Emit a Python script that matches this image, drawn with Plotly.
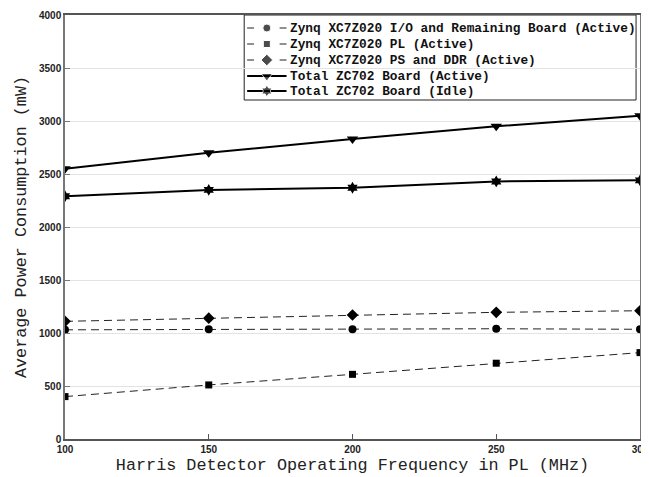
import plotly.graph_objects as go

freq = [100, 150, 200, 250, 300]
io_remaining = [1030, 1035, 1035, 1040, 1035]
pl_active = [400, 510, 610, 715, 815]
ps_ddr = [1110, 1140, 1170, 1195, 1210]
total_active = [2550, 2700, 2830, 2950, 3050]
total_idle = [2290, 2350, 2370, 2430, 2440]

names = [
    "Zynq XC7Z020 I/O and Remaining Board (Active)",
    "Zynq XC7Z020 PL (Active)",
    "Zynq XC7Z020 PS and DDR (Active)",
    "Total ZC702 Board (Active)",
    "Total ZC702 Board (Idle)",
]
y_ticks = [0, 500, 1000, 1500, 2000, 2500, 3000, 3500, 4000]
x_ticks = [100, 150, 200, 250, 300]

series = [io_remaining, pl_active, ps_ddr, total_active, total_idle]
symbols = ["circle", "square", "diamond", "triangle-down", "hexagram"]
sizes = [8, 7, 9, 10, 9]
leg_sizes = [8, 7, 9, 10, 9]
dashes = ["8px,5px", "8px,5px", "8px,5px", "solid", "solid"]
widths = [1, 1, 1, 2, 2]
colors = ["#222", "#222", "#222", "black", "black"]

fig = go.Figure()
for n, s, sym, sz, d, w, c in zip(names, series, symbols, sizes, dashes, widths, colors):
    fig.add_trace(go.Scatter(
        x=freq, y=s, name=n, mode="lines+markers", showlegend=False,
        line=dict(color=c, width=w, dash=d),
        marker=dict(symbol=sym, size=sz, color="black"),
    ))

# ---- manual legend (layout, in pixel-like overlay axes) ----
box_x0, box_x1, box_y0, box_y1 = 247, 645, 15, 100
row_y = [28, 44, 60, 76, 91]
g0, g1, gm = 250, 290, 270
text_x = 291

fig.add_shape(type="rect", xref="x2", yref="y2", x0=box_x0, x1=box_x1, y0=box_y0, y1=box_y1,
              line=dict(color="#222", width=1), fillcolor="white", layer="below")
for i, n in enumerate(names):
    y = row_y[i]
    if dashes[i] == "solid":
        fig.add_shape(type="line", xref="x2", yref="y2", x0=g0, x1=g1, y0=y, y1=y,
                      line=dict(color="black", width=2), layer="below")
    else:
        for a, b in [(g0, g0 + 7), (g1 - 7, g1)]:
            fig.add_shape(type="line", xref="x2", yref="y2", x0=a, x1=b, y0=y, y1=y,
                          line=dict(color="#222", width=1), layer="below")
    fig.add_annotation(xref="x2", yref="y2", x=text_x, y=y, text=n, showarrow=False,
                       xanchor="left", yanchor="middle",
                       font=dict(family="Liberation Mono", size=12.8, color="#111", weight="bold"))

fig.add_trace(go.Scatter(
    x=[gm] * 5, y=row_y, xaxis="x2", yaxis="y2", mode="markers", showlegend=False,
    marker=dict(symbol=symbols, size=leg_sizes, color="black"), cliponaxis=False,
    hoverinfo="skip",
))

tickfont = dict(family="Liberation Sans", size=10, color="#222", weight="bold")
titlefont = dict(family="Liberation Mono", size=16.8, color="#222")

fig.update_layout(
    width=641, height=469,
    margin=dict(l=57, r=0, t=7, b=38),
    paper_bgcolor="white", plot_bgcolor="white",
    showlegend=False,
    xaxis=dict(
        range=[100, 300], tickvals=x_ticks, ticktext=[str(v) for v in x_ticks],
        showgrid=False, zeroline=False, ticklabeloverflow="allow",
        showline=True, linecolor="#555", linewidth=1.5, mirror=True,
        ticks="inside", ticklen=5, tickcolor="#555", tickfont=tickfont,
        title=dict(text="Harris Detector Operating Frequency in PL (MHz)",
                   font=titlefont, standoff=4),
    ),
    yaxis=dict(
        range=[0, 4000], tickvals=y_ticks, ticktext=[str(v) for v in y_ticks],
        showgrid=True, gridcolor="#e3e3e3", gridwidth=1, zeroline=False,
        ticklabeloverflow="allow",
        showline=True, linecolor="#777", linewidth=1.5, mirror=True,
        ticks="inside", ticklen=5, tickcolor="#777", tickfont=tickfont,
        title=dict(text="Average Power Consumption (mW)",
                   font=titlefont, standoff=8),
    ),
    xaxis2=dict(overlaying="x", range=[65, 649], visible=False, fixedrange=True),
    yaxis2=dict(overlaying="y", range=[439, 15], visible=False, fixedrange=True),
)

fig.write_html("out.html")
